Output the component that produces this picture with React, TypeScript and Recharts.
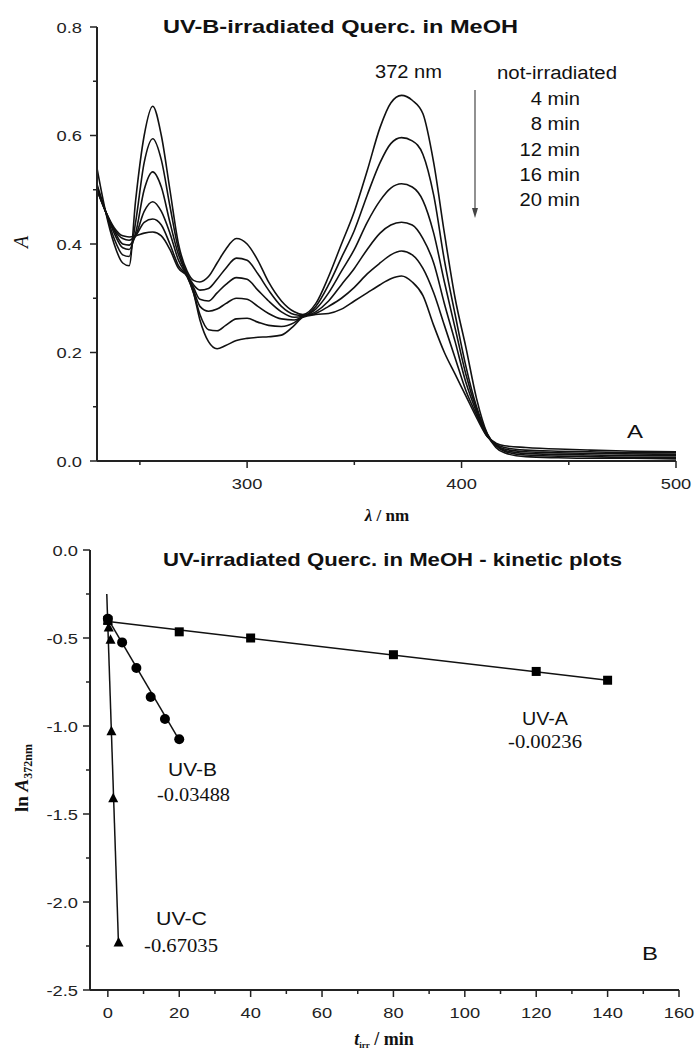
import React from 'react';
import { LineChart, Line, XAxis, YAxis, ComposedChart, Scatter } from 'recharts';

const SANS = '"Liberation Sans", Arial, sans-serif';
const SERIF = '"Liberation Serif", "Times New Roman", serif';
const AXIS = '#222';
const INK = '#111';

// --- panel A: UV-B irradiated spectra ---
const wavelengths = [230, 234, 238, 242, 245, 248, 252, 256, 260, 264, 268, 272, 275, 278, 282, 286, 290, 295, 300, 305, 310, 316, 322, 326, 332, 338, 344, 350, 356, 362, 367, 372, 377, 382, 387, 392, 397, 402, 407, 412, 416, 420, 430, 445, 460, 480, 500];
const notIrradiated = [0.54, 0.46, 0.40, 0.365, 0.36, 0.48, 0.60, 0.654, 0.60, 0.50, 0.40, 0.35, 0.333, 0.33, 0.34, 0.365, 0.39, 0.41, 0.40, 0.37, 0.33, 0.295, 0.275, 0.27, 0.29, 0.34, 0.40, 0.46, 0.535, 0.615, 0.66, 0.674, 0.665, 0.64, 0.55, 0.42, 0.30, 0.21, 0.115, 0.05, 0.025, 0.015, 0.008, 0.006, 0.005, 0.005, 0.004];
const min4 = [0.51, 0.46, 0.41, 0.38, 0.377, 0.44, 0.55, 0.594, 0.555, 0.47, 0.39, 0.345, 0.325, 0.315, 0.318, 0.335, 0.355, 0.374, 0.37, 0.345, 0.315, 0.285, 0.27, 0.268, 0.285, 0.325, 0.375, 0.425, 0.49, 0.55, 0.585, 0.596, 0.59, 0.565, 0.49, 0.37, 0.27, 0.175, 0.10, 0.05, 0.028, 0.018, 0.011, 0.009, 0.008, 0.007, 0.007];
const min8 = [0.505, 0.46, 0.42, 0.393, 0.39, 0.42, 0.50, 0.533, 0.505, 0.44, 0.38, 0.343, 0.32, 0.298, 0.295, 0.31, 0.325, 0.338, 0.335, 0.315, 0.295, 0.275, 0.265, 0.267, 0.28, 0.31, 0.35, 0.39, 0.44, 0.48, 0.503, 0.511, 0.505, 0.48, 0.42, 0.33, 0.245, 0.16, 0.095, 0.048, 0.03, 0.02, 0.014, 0.012, 0.011, 0.01, 0.01];
const min12 = [0.50, 0.46, 0.425, 0.40, 0.398, 0.415, 0.46, 0.478, 0.46, 0.42, 0.37, 0.342, 0.315, 0.285, 0.276, 0.28, 0.29, 0.30, 0.298, 0.285, 0.272, 0.262, 0.26, 0.266, 0.275, 0.295, 0.325, 0.355, 0.39, 0.42, 0.435, 0.44, 0.435, 0.41, 0.365, 0.29, 0.22, 0.145, 0.09, 0.046, 0.03, 0.022, 0.017, 0.015, 0.014, 0.013, 0.012];
const min16 = [0.50, 0.46, 0.427, 0.41, 0.407, 0.415, 0.44, 0.446, 0.435, 0.40, 0.36, 0.341, 0.31, 0.27, 0.242, 0.24, 0.25, 0.262, 0.263, 0.256, 0.25, 0.248, 0.255, 0.266, 0.272, 0.285, 0.30, 0.32, 0.345, 0.365, 0.38, 0.387, 0.38, 0.355, 0.31, 0.25, 0.19, 0.13, 0.085, 0.045, 0.031, 0.025, 0.02, 0.018, 0.017, 0.015, 0.015];
const min20 = [0.50, 0.46, 0.43, 0.415, 0.413, 0.415, 0.42, 0.422, 0.415, 0.39, 0.355, 0.34, 0.31, 0.26, 0.22, 0.207, 0.213, 0.222, 0.226, 0.228, 0.229, 0.232, 0.25, 0.265, 0.27, 0.272, 0.28, 0.295, 0.31, 0.325, 0.336, 0.341, 0.33, 0.305, 0.25, 0.20, 0.16, 0.12, 0.08, 0.045, 0.033, 0.028, 0.025, 0.022, 0.02, 0.018, 0.017];
const spectraKeys = ['c0', 'c4', 'c8', 'c12', 'c16', 'c20'];
const topXTicks = [250, 300, 350, 400, 450, 500];
const topXMajor = [300, 400, 500];
const topYTicks = [0, 0.1, 0.2, 0.3, 0.4, 0.5, 0.6, 0.7, 0.8];
const topYMajor = [0, 0.2, 0.4, 0.6, 0.8];
const timeLabels = ['4 min', '8 min', '12 min', '16 min', '20 min'];

// --- panel B: kinetic plots ---
const uvaTime = [0, 20, 40, 80, 120, 140];
const uvaLnA = [-0.40, -0.465, -0.50, -0.595, -0.69, -0.74];
const uvbTime = [0, 4, 8, 12, 16, 20];
const uvbLnA = [-0.39, -0.525, -0.67, -0.835, -0.96, -1.075];
const uvcTime = [0, 0.25, 0.75, 1, 1.5, 3];
const uvcLnA = [-0.40, -0.44, -0.51, -1.03, -1.41, -2.23];
const fitATime = [-0.5, 140];
const fitALnA = [-0.405, -0.74];
const fitBTime = [0, 20];
const fitBLnA = [-0.39, -1.08];
const fitCTime = [-0.3, 3];
const fitCLnA = [-0.25, -2.25];
const botXTicks = [0, 10, 20, 30, 40, 50, 60, 70, 80, 90, 100, 110, 120, 130, 140, 150, 160];
const botXMajor = [0, 20, 40, 60, 80, 100, 120, 140, 160];
const botYTicks = [0, -0.25, -0.5, -0.75, -1, -1.25, -1.5, -1.75, -2, -2.25, -2.5];
const botYMajor = [0, -0.5, -1, -1.5, -2, -2.5];

const spectra = wavelengths.map((w, i) => ({
  w,
  c0: notIrradiated[i],
  c4: min4[i],
  c8: min8[i],
  c12: min12[i],
  c16: min16[i],
  c20: min20[i],
}));

const pts = (ts: number[], ys: number[]) => ts.map((t, i) => ({ t, y: ys[i] }));

function XTick(props: any) {
  const { x, y, payload, major, fmt } = props;
  const isMajor = major.includes(payload.value);
  return (
    <g>
      <line x1={x} y1={y} x2={x} y2={y + (isMajor ? 7 : 4)} stroke={AXIS} strokeWidth={1.5} />
      {isMajor && (
        <text transform={`translate(${x},${y + 28}) scale(1.18,1)`} textAnchor="middle"
          fontFamily={SANS} fontSize={15.5} fill="#222">{fmt(payload.value)}</text>
      )}
    </g>
  );
}

function YTick(props: any) {
  const { x, y, payload, major, gap } = props;
  const isMajor = major.includes(payload.value);
  return (
    <g>
      <line x1={x - (isMajor ? 7 : 4)} y1={y} x2={x} y2={y} stroke={AXIS} strokeWidth={1.5} />
      {isMajor && (
        <text transform={`translate(${x - gap},${y + 5.5}) scale(1.18,1)`} textAnchor="end"
          fontFamily={SANS} fontSize={15.5} fill="#222">{payload.value.toFixed(1)}</text>
      )}
    </g>
  );
}

// text stretched to the width it has in the picture
function T({ x, y, w, size = 18, bold = false, serif = false, children }: any) {
  return (
    <text x={x} y={y} textLength={w} lengthAdjust="spacingAndGlyphs" fontSize={size}
      fontWeight={bold ? 'bold' : 'normal'} fontFamily={serif ? SERIF : SANS} fill="#111">
      {children}
    </text>
  );
}

const square = (p: any) => <rect x={p.cx - 4.5} y={p.cy - 4.5} width={9} height={9} fill="#000" />;
const circle = (p: any) => <circle cx={p.cx} cy={p.cy} r={5} fill="#000" />;
const triangle = (p: any) => (
  <polygon points={`${p.cx},${p.cy - 5.5} ${p.cx - 5},${p.cy + 4} ${p.cx + 5},${p.cy + 4}`} fill="#000" />
);
const noDot = () => <g />;

export default function App() {
  return (
    <div style={{ position: 'absolute', left: 0, top: 0, width: 695, height: 1055, background: '#fff' }}>
      <div style={{ position: 'absolute', left: 0, top: 0 }}>
        <LineChart width={695} height={500} data={spectra} margin={{ top: 27, right: 19, bottom: 9, left: 0 }}>
          <XAxis dataKey="w" type="number" domain={[230, 500]} ticks={topXTicks} interval={0}
            height={30} tickSize={0} tickMargin={0}
            axisLine={{ stroke: AXIS, strokeWidth: 2 }} tickLine={false}
            tick={(p: any) => <XTick {...p} major={topXMajor} fmt={(v: number) => String(v)} />} />
          <YAxis type="number" domain={[0, 0.8]} ticks={topYTicks} interval={0} width={97}
            tickSize={0} tickMargin={0}
            axisLine={{ stroke: AXIS, strokeWidth: 2 }} tickLine={false}
            tick={(p: any) => <YTick {...p} major={topYMajor} gap={15} />} />
          {spectraKeys.map((k) => (
            <Line key={k} type="monotone" dataKey={k} stroke={INK} strokeWidth={1.6}
              dot={false} isAnimationActive={false} />
          ))}
        </LineChart>
      </div>

      <div style={{ position: 'absolute', left: 0, top: 500 }}>
        <ComposedChart width={695} height={555} margin={{ top: 50, right: 16, bottom: 35, left: 0 }}>
          <XAxis dataKey="t" type="number" domain={[-5, 160]} ticks={botXTicks} interval={0}
            height={30} tickSize={0} tickMargin={0}
            axisLine={{ stroke: AXIS, strokeWidth: 2 }} tickLine={false}
            tick={(p: any) => <XTick {...p} major={botXMajor} fmt={(v: number) => String(v)} />} />
          <YAxis dataKey="y" type="number" domain={[-2.5, 0]} ticks={botYTicks} interval={0} width={90}
            tickSize={0} tickMargin={0}
            axisLine={{ stroke: AXIS, strokeWidth: 2 }} tickLine={false}
            tick={(p: any) => <YTick {...p} major={botYMajor} gap={12} />} />
          <Scatter data={pts(fitATime, fitALnA)} line={{ stroke: INK, strokeWidth: 1.5 }} shape={noDot} isAnimationActive={false} />
          <Scatter data={pts(fitBTime, fitBLnA)} line={{ stroke: INK, strokeWidth: 1.5 }} shape={noDot} isAnimationActive={false} />
          <Scatter data={pts(fitCTime, fitCLnA)} line={{ stroke: INK, strokeWidth: 1.5 }} shape={noDot} isAnimationActive={false} />
          <Scatter data={pts(uvaTime, uvaLnA)} shape={square} isAnimationActive={false} />
          <Scatter data={pts(uvbTime, uvbLnA)} shape={circle} isAnimationActive={false} />
          <Scatter data={pts(uvcTime, uvcLnA)} shape={triangle} isAnimationActive={false} />
        </ComposedChart>
      </div>

      <svg width={695} height={1055} style={{ position: 'absolute', left: 0, top: 0, pointerEvents: 'none' }}>
        {/* panel A texts */}
        <T x={163} y={33} w={355} size={19} bold>UV-B-irradiated Querc. in MeOH</T>
        <T x={375} y={78} w={67}>372 nm</T>
        <T x={497} y={79} w={120}>not-irradiated</T>
        {timeLabels.map((s, i) => (
          <text key={s} transform={`translate(580,${105 + i * 25.3}) scale(1.12,1)`} textAnchor="end"
            fontFamily={SANS} fontSize={18} fill="#111">{s}</text>
        ))}
        <line x1={475} y1={90} x2={475} y2={210} stroke="#555" strokeWidth={1.3} />
        <polygon points="472,208 478,208 475,218" fill="#444" />
        <T x={627} y={438} w={16} size={19}>A</T>
        <text transform="translate(28,242) rotate(-90)" textAnchor="middle" fontFamily={SERIF}
          fontStyle="italic" fontSize={20} fill="#111">A</text>
        <text x={387} y={521} textAnchor="middle" fontFamily={SERIF} fontWeight="bold" fontSize={17} fill="#111">
          <tspan fontStyle="italic">λ</tspan> / nm
        </text>

        {/* panel B texts */}
        <T x={163} y={566} w={459} size={19} bold>UV-irradiated Querc. in MeOH - kinetic plots</T>
        <T x={522} y={725} w={46}>UV-A</T>
        <T x={508} y={748} w={74} size={19} serif>-0.00236</T>
        <T x={168} y={776} w={49}>UV-B</T>
        <T x={157} y={801} w={73} size={19} serif>-0.03488</T>
        <T x={156} y={925} w={51}>UV-C</T>
        <T x={144} y={952} w={74} size={19} serif>-0.67035</T>
        <T x={642} y={960} w={16} size={19}>B</T>
        <text transform="translate(28,778) rotate(-90)" textAnchor="middle" fontFamily={SERIF}
          fontWeight="bold" fontSize={19} fill="#111">
          ln <tspan fontStyle="italic">A</tspan><tspan fontSize={12} dy={4}>372nm</tspan>
        </text>
        <text x={384} y={1045} textAnchor="middle" fontFamily={SERIF} fontWeight="bold" fontSize={18} fill="#111">
          <tspan fontStyle="italic">t</tspan><tspan fontSize={9} dy={3}>irr</tspan><tspan dy={-3}> / min</tspan>
        </text>
      </svg>
    </div>
  );
}
